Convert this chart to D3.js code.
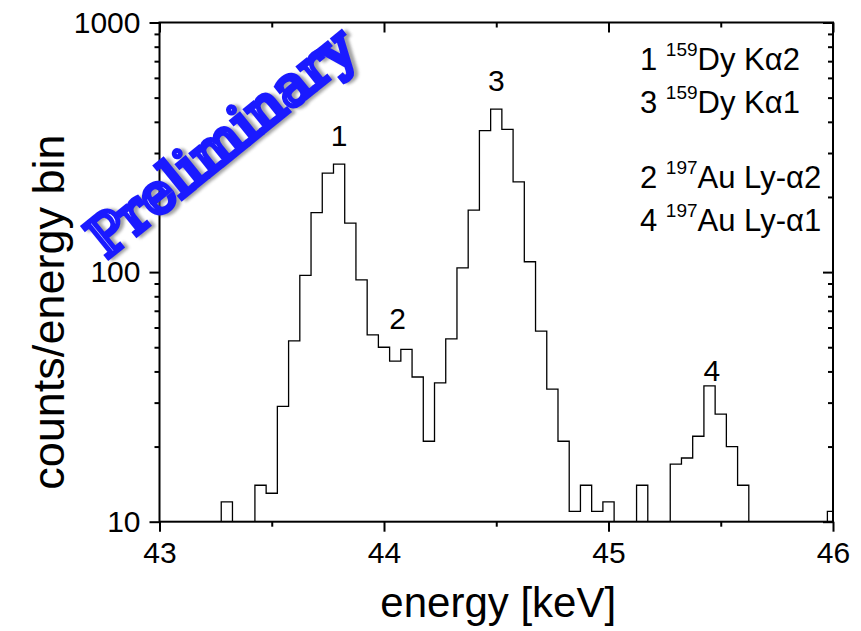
<!DOCTYPE html>
<html>
<head>
<meta charset="utf-8">
<script src="https://cdn.jsdelivr.net/npm/d3@7"></script>
<style>
  body { margin: 0; background: #fff; }
  text { font-family: "Liberation Sans", Arial, sans-serif; }
</style>
</head>
<body>
<svg id="chart" width="861" height="631"></svg>
<script>
// bin centres (keV), bin width 0.05
const binCenters = d3.range(61).map(i => +(43 + i * 0.05).toFixed(2));
const counts = [
  0, 0, 0, 0, 0, 0, 12, 0, 0, 14,
  13, 29, 53, 97, 173, 249, 271, 157, 93, 56,
  50, 44, 49, 38, 21, 36, 54, 104, 177, 369,
  450, 373, 230, 110, 58, 34, 21, 11, 14, 11,
  12, 0, 0, 14, 0, 0, 17, 18, 22, 35,
  27, 20, 14, 0, 0, 0, 0, 0, 0, 0,
  11
];
const binWidth = 0.05;

const xMajor = [43, 44, 45, 46];
const xMinor = [43.5, 44.5, 45.5];
const yMajor = [10, 100, 1000];
const yMinor = [20, 30, 40, 50, 60, 70, 80, 90, 200, 300, 400, 500, 600, 700, 800, 900];

const peakLabels = ['1', '2', '3', '4'];
const peakPos = [[43.8, 271], [44.06, 50], [44.5, 450], [45.46, 31]];

const legendNum = ['1', '3', '2', '4'];
const legendIso = ['159', '159', '197', '197'];
const legendName = ['Dy K\u03b12', 'Dy K\u03b11', 'Au Ly-\u03b12', 'Au Ly-\u03b11'];
const legendY = [70, 113, 188, 231];

const svg = d3.select('#chart');
const margin = {top: 22.5, right: 28, bottom: 109.3, left: 159.5};
const width = +svg.attr('width') - margin.left - margin.right;
const height = +svg.attr('height') - margin.top - margin.bottom;

const x = d3.scaleLinear().domain([43, 46]).range([0, width]);
const y = d3.scaleLog().domain([10, 1000]).range([height, 0]).clamp(true);

const g = svg.append('g').attr('transform', 'translate(' + margin.left + ',' + margin.top + ')');

const defs = svg.append('defs');
defs.append('clipPath').attr('id', 'plotclip')
  .append('rect').attr('width', width).attr('height', height);

// histogram steps
const steps = binCenters.map((c, i) => [c - binWidth / 2, counts[i]]);
steps.push([binCenters[binCenters.length - 1] + binWidth / 2, counts[counts.length - 1]]);

const line = d3.line()
  .x(d => x(d[0]))
  .y(d => y(d[1]))
  .curve(d3.curveStepAfter);

g.append('path')
  .datum(steps)
  .attr('clip-path', 'url(#plotclip)')
  .attr('fill', 'none')
  .attr('stroke', '#000')
  .attr('stroke-width', 1.3)
  .attr('d', line);

// axes
function styleAxis(sel) {
  sel.select('.domain').remove();
  sel.selectAll('line').attr('stroke', '#000').attr('stroke-width', 2);
  sel.selectAll('text').style('font-size', '30px').attr('fill', '#000');
}

g.append('g').attr('transform', 'translate(0,' + height + ')')
  .call(d3.axisBottom(x).tickValues(xMajor).tickSize(10).tickPadding(10).tickFormat(d3.format('d')))
  .call(styleAxis);
g.append('g').attr('transform', 'translate(0,' + height + ')')
  .call(d3.axisBottom(x).tickValues(xMinor).tickSize(5).tickFormat(''))
  .call(styleAxis);
g.append('g')
  .call(d3.axisBottom(x).tickValues(xMajor).tickSize(10).tickFormat(''))
  .call(styleAxis);
g.append('g')
  .call(d3.axisBottom(x).tickValues(xMinor).tickSize(5).tickFormat(''))
  .call(styleAxis);

g.append('g')
  .call(d3.axisLeft(y).tickValues(yMajor).tickSize(10).tickPadding(9).tickFormat(d3.format('d')))
  .call(styleAxis);
g.append('g')
  .call(d3.axisLeft(y).tickValues(yMinor).tickSize(5).tickFormat(''))
  .call(styleAxis);
g.append('g').attr('transform', 'translate(' + width + ',0)')
  .call(d3.axisLeft(y).tickValues(yMajor).tickSize(10).tickFormat(''))
  .call(styleAxis);
g.append('g').attr('transform', 'translate(' + width + ',0)')
  .call(d3.axisLeft(y).tickValues(yMinor).tickSize(5).tickFormat(''))
  .call(styleAxis);

// frame
g.append('rect')
  .attr('width', width).attr('height', height)
  .attr('fill', 'none').attr('stroke', '#000').attr('stroke-width', 2);

// peak labels
g.selectAll('.peak')
  .data(peakLabels)
  .enter().append('text')
  .attr('class', 'peak')
  .attr('x', (d, i) => x(peakPos[i][0]))
  .attr('y', (d, i) => y(peakPos[i][1]) - 18)
  .attr('text-anchor', 'middle')
  .style('font-size', '30px')
  .text(d => d);

// legend
const leg = g.selectAll('.leg')
  .data(legendNum)
  .enter().append('text')
  .attr('class', 'leg')
  .attr('x', 640 - margin.left)
  .attr('y', (d, i) => legendY[i] - margin.top)
  .style('font-size', '31px');
leg.append('tspan').text(d => d + ' ');
leg.append('tspan').attr('dy', -14).style('font-size', '19px').text((d, i) => legendIso[i]);
leg.append('tspan').attr('dy', 14).text((d, i) => legendName[i]);

// axis titles
svg.append('text')
  .attr('x', margin.left + x(44.5) + 2)
  .attr('y', 617)
  .attr('text-anchor', 'middle')
  .style('font-size', '42px')
  .text('energy [keV]');

svg.append('text')
  .attr('transform', 'translate(64,' + (margin.top + y(100) + 40) + ') rotate(-90)')
  .attr('text-anchor', 'middle')
  .style('font-size', '45px')
  .text('counts/energy bin');

// watermark
defs.append('filter').attr('id', 'blur')
  .append('feGaussianBlur').attr('stdDeviation', 1.5);

const wm = svg.append('g').attr('transform', 'translate(221,142) rotate(-39)');
wm.append('text')
  .attr('x', 3).attr('y', 3)
  .attr('text-anchor', 'middle')
  .attr('dominant-baseline', 'central')
  .style('font-family', '"DejaVu Serif", serif')
  .style('font-size', '55px')
  .attr('fill', '#666')
  .attr('stroke', '#666')
  .attr('stroke-width', 5)
  .attr('opacity', 0.6)
  .attr('filter', 'url(#blur)')
  .text('Preliminary');
wm.append('text')
  .attr('text-anchor', 'middle')
  .attr('dominant-baseline', 'central')
  .style('font-family', '"DejaVu Serif", serif')
  .style('font-size', '55px')
  .attr('fill', '#fff')
  .attr('stroke', '#1a1aff')
  .attr('stroke-width', 5)
  .text('Preliminary');
</script>
</body>
</html>
